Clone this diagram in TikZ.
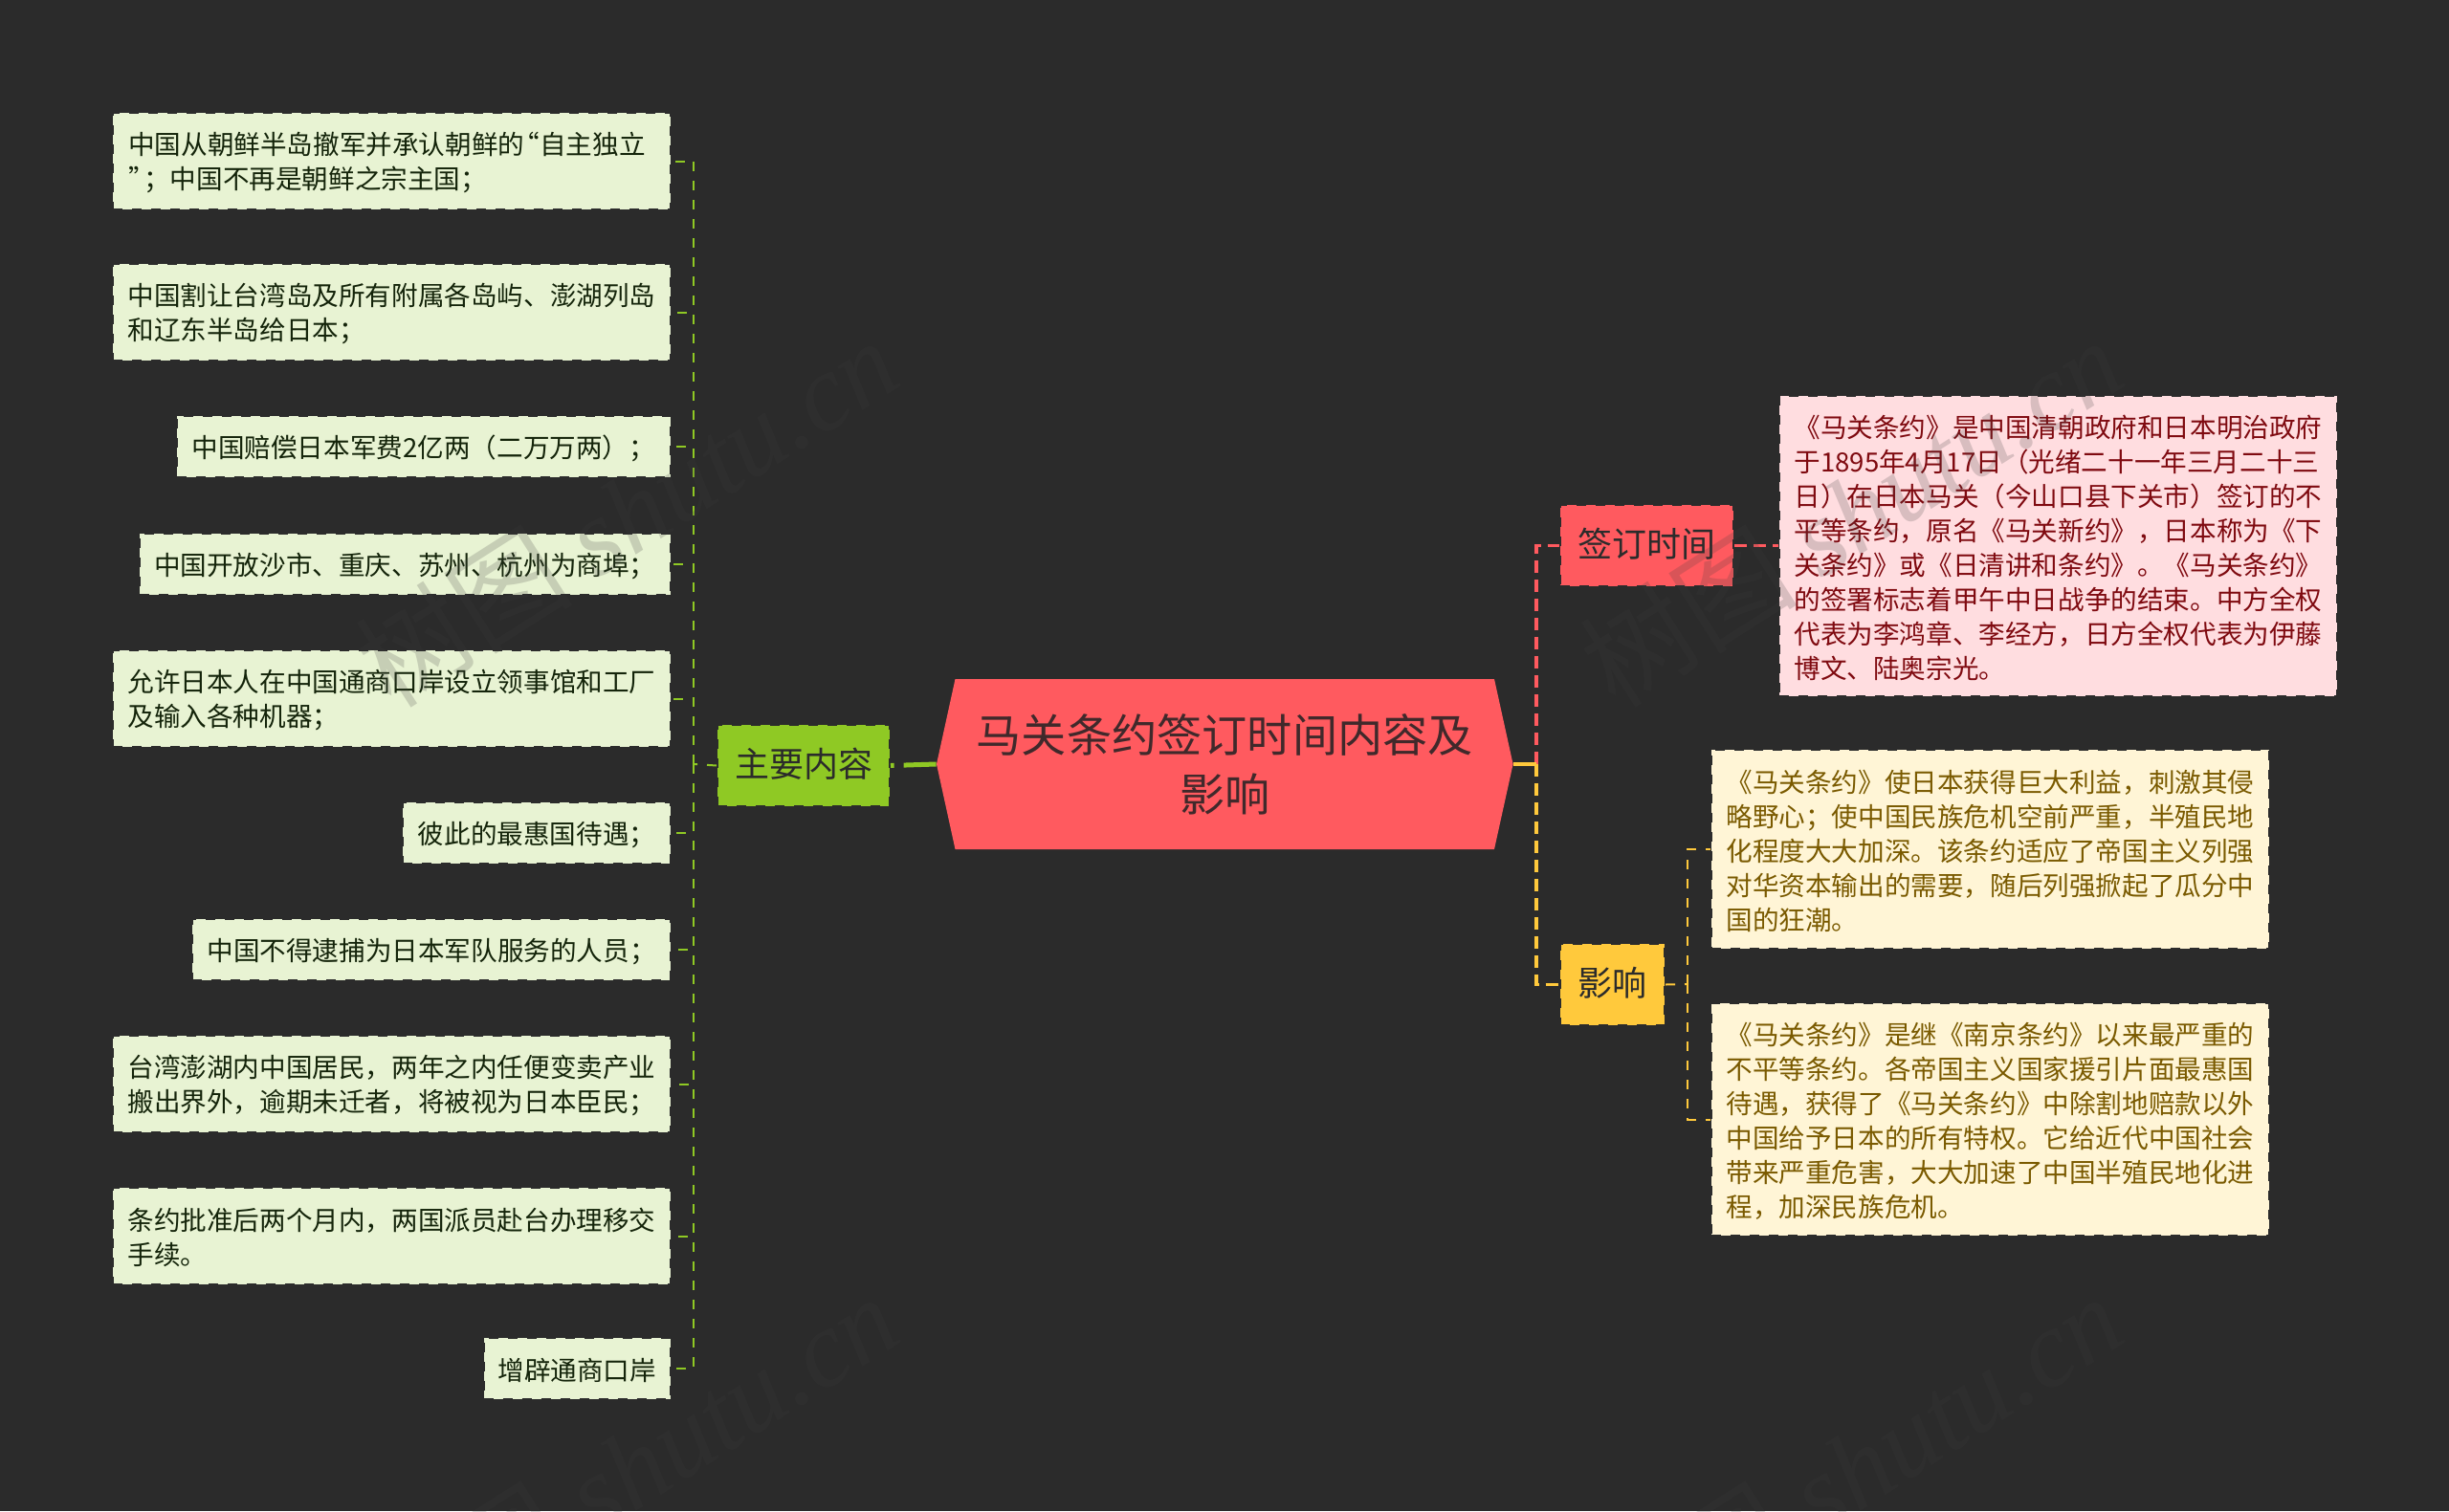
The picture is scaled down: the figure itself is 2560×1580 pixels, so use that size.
\documentclass[tikz,border=0pt]{standalone}
\usepackage{fontspec}
\setmainfont{Noto Sans CJK SC}
\newfontfamily\wmlatin{Liberation Serif}
\definecolor{bgc}{HTML}{2B2B2B}
\definecolor{redc}{HTML}{FF5A5F}
\definecolor{greenc}{HTML}{8FC924}
\definecolor{yellowc}{HTML}{FFC93C}
\definecolor{leafg}{HTML}{E8F3D3}
\definecolor{leafp}{HTML}{FFDDE0}
\definecolor{leafy}{HTML}{FFF5D6}
\definecolor{txtg}{HTML}{14240A}
\definecolor{txtp}{HTML}{7F0A10}
\definecolor{txty}{HTML}{7A5A00}
\definecolor{txtm}{HTML}{40292B}
\definecolor{wmc}{RGB}{62,62,62}
\tikzset{
  x=0.5pt,y=-0.5pt,
  box/.style={anchor=north west,inner sep=0pt,align=left,draw=bgc,line width=1pt,dash pattern=on 5pt off 5pt},
  leafbox/.style={box,font=\fontsize{13.8}{18}\selectfont,execute at begin node={\rule{0pt}{#1}}},
  leafgreen/.style={leafbox=#1,fill=leafg,text=txtg},
  leafgreen/.default=13.6pt,
  leafpink/.style={leafbox=#1,fill=leafp,text=txtp},
  leafyellow/.style={leafbox=#1,fill=leafy,text=txty},
  branch/.style={box,text=bgc,font=\fontsize{18}{24}\selectfont,execute at begin node={\rule[-3.3pt]{0pt}{16pt}}},
  thin/.style={line width=1pt,dash pattern=on 5pt off 5pt},
  mid/.style={line width=1.8pt,dash pattern=on 6.5pt off 3.5pt},
  wm/.style={text=wmc,opacity=0.2,rotate=32.5,font=\fontsize{57}{57}\selectfont,inner sep=0pt},
}
\begin{document}
\begin{tikzpicture}
\useasboundingbox (0,0) rectangle (2560,1580);
\fill[bgc] (0,0) rectangle (2560,1580);
% centre
\fill[redc] (979,799) -- (998.5,710) -- (1562,710) -- (1581.6,799) -- (1562,888) -- (998.5,888) -- cycle;
\node[inner sep=0pt,minimum width=301.3pt,minimum height=89pt,align=center,text=txtm,font=\fontsize{23.6}{31}\selectfont] (main) at (1280.3,799) {马关条约签订时间内容及\\影响};
% branches
\node[branch,fill=greenc,minimum width=90pt,minimum height=42.5pt] (zy) at (749,757) {主要内容};
\node[branch,fill=redc,minimum width=90.5pt,minimum height=42.5pt] (qd) at (1630,527) {签订时间};
\node[branch,fill=yellowc,minimum width=54.5pt,minimum height=42.5pt] (yx) at (1630,986) {影响};
% left leaves
\node[leafgreen=31.6pt,minimum width=291.5pt,minimum height=50.5pt] (l1) at (117,117) {中国从朝鲜半岛撤军并承认朝鲜的\kern-0.42em“自主独立\hspace*{5pt}\\”\kern-0.42em；中国不再是朝鲜之宗主国；};
\node[leafgreen=31.6pt,minimum width=291.5pt,minimum height=50.5pt] (l2) at (117,275) {中国割让台湾岛及所有附属各岛屿、澎湖列岛\\和辽东半岛给日本；};
\node[leafgreen,minimum width=258.25pt,minimum height=32pt] (l3) at (183.5,434) {中国赔偿日本军费2亿两（二万万两）；};
\node[leafgreen,minimum width=277.75pt,minimum height=32pt] (l4) at (144.5,557) {中国开放沙市、重庆、苏州、杭州为商埠；};
\node[leafgreen=31.6pt,minimum width=291.5pt,minimum height=50.5pt] (l5) at (117,679) {允许日本人在中国通商口岸设立领事馆和工厂\\及输入各种机器；};
\node[leafgreen,minimum width=140pt,minimum height=32pt] (l6) at (420,838) {彼此的最惠国待遇；};
\node[leafgreen,minimum width=250pt,minimum height=32pt] (l7) at (200,960) {中国不得逮捕为日本军队服务的人员；};
\node[leafgreen=31.6pt,minimum width=291.5pt,minimum height=50.5pt] (l8) at (117,1082) {台湾澎湖内中国居民，两年之内任便变卖产业\\搬出界外，逾期未迁者，将被视为日本臣民；};
\node[leafgreen=31.6pt,minimum width=291.5pt,minimum height=50.5pt] (l9) at (117,1241) {条约批准后两个月内，两国派员赴台办理移交\\手续。};
\node[leafgreen,minimum width=97.75pt,minimum height=32pt] (l10) at (504.5,1398) {增辟通商口岸};
% right leaves
\node[leafpink=139.6pt,minimum width=291.5pt,minimum height=157pt] (p1) at (1859,413) {《马关条约》是中国清朝政府和日本明治政府\\于1895年4月17日（光绪二十一年三月二十三\\日）在日本马关（今山口县下关市）签订的不\\平等条约，原名《马关新约》，日本称为《下\\关条约》或《日清讲和条约》。《马关条约》\\的签署标志着甲午中日战争的结束。中方全权\\代表为李鸿章、李经方，日方全权代表为伊藤\\博文、陆奥宗光。};
\node[leafyellow=85.6pt,minimum width=291.5pt,minimum height=104pt] (y1) at (1788,783) {《马关条约》使日本获得巨大利益，刺激其侵\\略野心；使中国民族危机空前严重，半殖民地\\化程度大大加深。该条约适应了帝国主义列强\\对华资本输出的需要，随后列强掀起了瓜分中\\国的狂潮。};
\node[leafyellow=103.6pt,minimum width=291.5pt,minimum height=121.5pt] (y2) at (1788,1048) {《马关条约》是继《南京条约》以来最严重的\\不平等条约。各帝国主义国家援引片面最惠国\\待遇，获得了《马关条约》中除割地赔款以外\\中国给予日本的所有特权。它给近代中国社会\\带来严重危害，大大加速了中国半殖民地化进\\程，加深民族危机。};
% connectors
\coordinate (tl) at (725,799);
\coordinate (tr) at (1606,799);
\coordinate (ty) at (1764,1029);
\draw[greenc,line width=2.5pt,dash pattern=on 17pt off 5pt] (main.west) -- (zy.east);
\draw[greenc,thin] (zy.west) -- (tl);
\foreach \n in {l1,l2,l3,l4,l5,l6,l7,l8,l9,l10}{
  \draw[greenc,thin] (tl) |- (\n.east);
}
\draw[redc,mid] (tr) |- (qd.west);
\draw[redc,mid] (qd.east) -- (qd.east -| p1.west);
\draw[yellowc,mid] (tr) |- (yx.west);
\draw[yellowc,line width=2pt] (main.east) -- (tr);
\draw[yellowc,thin] (yx.east) -- (ty);
\draw[yellowc,thin] (ty) |- (y1.west);
\draw[yellowc,thin] (ty) |- (y2.west);
% watermark
\begin{scope}
\clip (0,0) rectangle (2560,1580);
\node[wm] (w1) at (655,535) {树图 {\wmlatin\itshape shutu.cn}};
\node[wm] (w2) at (1935,535) {树图 {\wmlatin\itshape shutu.cn}};
\node[wm] (w3) at (655,1535) {树图 {\wmlatin\itshape shutu.cn}};
\node[wm] (w4) at (1935,1535) {树图 {\wmlatin\itshape shutu.cn}};
\end{scope}
\end{tikzpicture}
\end{document}
